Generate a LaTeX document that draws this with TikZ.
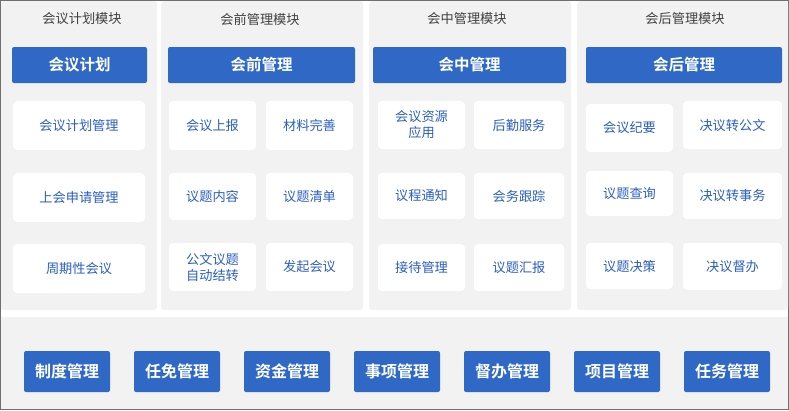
\documentclass[tikz,border=0pt]{standalone}
\usepackage{fontspec}
\setmainfont{Noto Sans CJK SC}
\newfontfamily\boldcjk{Noto Sans CJK SC Bold}

\definecolor{frame_gray}{HTML}{6F6F6F}
\definecolor{panel_gray}{HTML}{F2F2F2}
\definecolor{head_blue}{HTML}{3068C6}
\definecolor{text_blue}{HTML}{2B5FC4}
\definecolor{title_gray}{HTML}{404040}

\begin{document}
\begin{tikzpicture}[x=1pt, y=-1pt,
  title/.style={text=title_gray, font=\fontsize{13.2}{15}\selectfont, inner sep=0pt},
  head/.style={fill=head_blue, rounded corners=2pt, text=white, inner sep=0pt,
    minimum height=36pt, font=\boldcjk\fontsize{15.5}{18}\selectfont},
  item/.style={fill=white, rounded corners=4pt, text=text_blue, inner sep=0pt,
    align=center, font=\fontsize{13.2}{16}\selectfont},
  base/.style={fill=head_blue, rounded corners=2pt, text=white, inner sep=0pt,
    minimum width=86pt, minimum height=41pt, font=\boldcjk\fontsize{16}{18}\selectfont}]

% page and frame
\fill[white] (0,0) rectangle (789,410);
\draw[frame_gray] (0.5,0.5) rectangle (788.5,409.5);

% four module panels and the bottom strip
\fill[panel_gray, rounded corners=3pt] (1,1) rectangle (157,310);
\fill[panel_gray, rounded corners=3pt] (161,1) rectangle (363,310);
\fill[panel_gray, rounded corners=3pt] (369,1) rectangle (571,310);
\fill[panel_gray, rounded corners=3pt] (577,1) rectangle (788,310);
\fill[panel_gray] (1,317) rectangle (788,409);

% panel titles
\node[title] (title_1) at (82,19) {会议计划模块};
\node[title] (title_2) at (260,19) {会前管理模块};
\node[title] (title_3) at (467,18) {会中管理模块};
\node[title] (title_4) at (685,18) {会后管理模块};

% blue headers
\node[head, minimum width=135pt] (head_1) at (79.5,65) {会议计划};
\node[head, minimum width=187pt] (head_2) at (261.5,65) {会前管理};
\node[head, minimum width=193pt] (head_3) at (469.5,65) {会中管理};
\node[head, minimum width=196pt] (head_4) at (684,65) {会后管理};

% plan panel: one column
\node[item, minimum width=132pt, minimum height=49pt] (plan_1) at (79,125.5) {会议计划管理};
\node[item, minimum width=132pt, minimum height=49pt] (plan_2) at (79,197.5) {上会申请管理};
\node[item, minimum width=132pt, minimum height=49pt] (plan_3) at (79,268.5) {周期性会议};

% pre panel: w=87
\node[item, minimum width=87pt, minimum height=49pt] (pre_1) at (212.5,125.5) {会议上报};
\node[item, minimum width=87pt, minimum height=49pt] (pre_2) at (309.5,125.5) {材料完善};
\node[item, minimum width=87pt, minimum height=47pt] (pre_3) at (212.5,196.5) {议题内容};
\node[item, minimum width=87pt, minimum height=47pt] (pre_4) at (309.5,196.5) {议题清单};
\node[item, minimum width=87pt, minimum height=48pt] (pre_5) at (212.5,267) {公文议题\\自动结转};
\node[item, minimum width=87pt, minimum height=48pt] (pre_6) at (309.5,267) {发起会议};

% mid panel
\node[item, minimum width=87pt, minimum height=48pt] (mid_1) at (421.5,125) {会议资源\\应用};
\node[item, minimum width=90pt, minimum height=48pt] (mid_2) at (519,125) {后勤服务};
\node[item, minimum width=87pt, minimum height=46pt] (mid_3) at (421.5,196) {议程通知};
\node[item, minimum width=90pt, minimum height=46pt] (mid_4) at (519,196) {会务跟踪};
\node[item, minimum width=87pt, minimum height=47pt] (mid_5) at (421.5,267.5) {接待管理};
\node[item, minimum width=90pt, minimum height=47pt] (mid_6) at (519,267.5) {议题汇报};

% post panel
\node[item, minimum width=87pt, minimum height=48pt] (post_1) at (629.5,128) {会议纪要};
\node[item, minimum width=99pt, minimum height=48pt] (post_2) at (732.5,125) {决议转公文};
\node[item, minimum width=87pt, minimum height=45pt] (post_3) at (629.5,193.5) {议题查询};
\node[item, minimum width=99pt, minimum height=46pt] (post_4) at (732.5,196) {决议转事务};
\node[item, minimum width=87pt, minimum height=46pt] (post_5) at (629.5,266) {议题决策};
\node[item, minimum width=99pt, minimum height=47pt] (post_6) at (732.5,266.5) {决议督办};

% bottom row, pitch 110
\node[base] (base_1) at (67,371.5) {制度管理};
\node[base] (base_2) at (177,371.5) {任免管理};
\node[base] (base_3) at (287,371.5) {资金管理};
\node[base] (base_4) at (397,371.5) {事项管理};
\node[base] (base_5) at (507,371.5) {督办管理};
\node[base] (base_6) at (617,371.5) {项目管理};
\node[base] (base_7) at (727,371.5) {任务管理};

\end{tikzpicture}
\end{document}
